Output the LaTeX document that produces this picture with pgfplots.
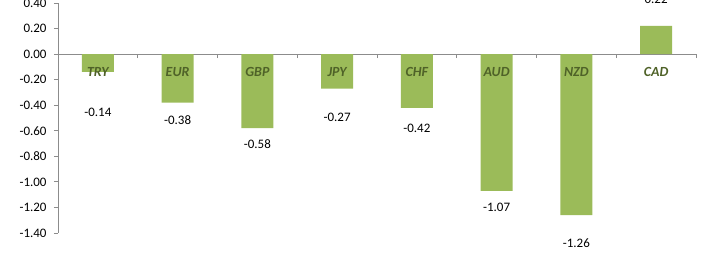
\documentclass[border=0pt]{standalone}
\usepackage{pgfplots}
\pgfplotsset{compat=1.18}
\usepackage{pgfplotstable}
\usepackage{fontspec}
\setmainfont{Carlito}
\definecolor{bargreen}{HTML}{9BBB59}
\definecolor{catgreen}{HTML}{4F6228}
\definecolor{axisgray}{HTML}{8C8C8C}
\pgfplotstableread{
x cat val lpos cpos lab
0.5 TRY -0.14 -0.454 -0.143 -0.14
1.5 EUR -0.38 -0.516 -0.143 -0.38
2.5 GBP -0.58 -0.708 -0.143 -0.58
3.5 JPY -0.27 -0.493 -0.143 -0.27
4.5 CHF -0.42 -0.579 -0.143 -0.42
5.5 AUD -1.07 -1.197 -0.143 -1.07
6.5 NZD -1.26 -1.479 -0.143 -1.26
7.5 CAD 0.22 0.430 -0.143 0.22
}\data
\begin{document}
\begin{tikzpicture}
\useasboundingbox (-58bp,-31bp) rectangle (650bp,233bp);
\begin{axis}[
  at={(0,0)}, anchor=south west,
  scale only axis, width=638bp, height=230bp,
  xmin=0, xmax=8, ymin=-1.4, ymax=0.4,
  axis x line=middle, axis y line=left,
  x axis line style={-, draw=axisgray, line width=0.8pt},
  y axis line style={-, draw=axisgray, line width=0.8pt},
  xtick={0,1,...,8}, xticklabels={},
  ytick={-1.4,-1.2,...,0.41},
  tick align=outside, major tick length=4bp,
  tick style={draw=axisgray, line width=0.8pt},
  y tick label style={font=\fontsize{13}{15}\selectfont, text=black, xshift=-4bp},
  /pgf/number format/assume math mode=true,
  yticklabel={\pgfmathprintnumber[fixed, fixed zerofill, precision=2]{\tick}},
  clip=false,
  axis on top=false,
]
\addplot[ybar, bar width=0.4, fill=bargreen, draw=none] table[x=x, y=val] {\data};
\addplot[draw=none, mark=none, nodes near coords, point meta=explicit symbolic,
  every node near coord/.append style={anchor=center, inner sep=0pt, font=\fontsize{13}{15}\selectfont, text=black}]
  table[x=x, y=lpos, meta=lab] {\data};
\addplot[draw=none, mark=none, nodes near coords, point meta=explicit symbolic,
  every node near coord/.append style={anchor=center, inner sep=0pt, font=\fontsize{14}{16}\selectfont\bfseries\itshape, text=catgreen}]
  table[x=x, y=cpos, meta=cat] {\data};
\end{axis}
\end{tikzpicture}
\end{document}
